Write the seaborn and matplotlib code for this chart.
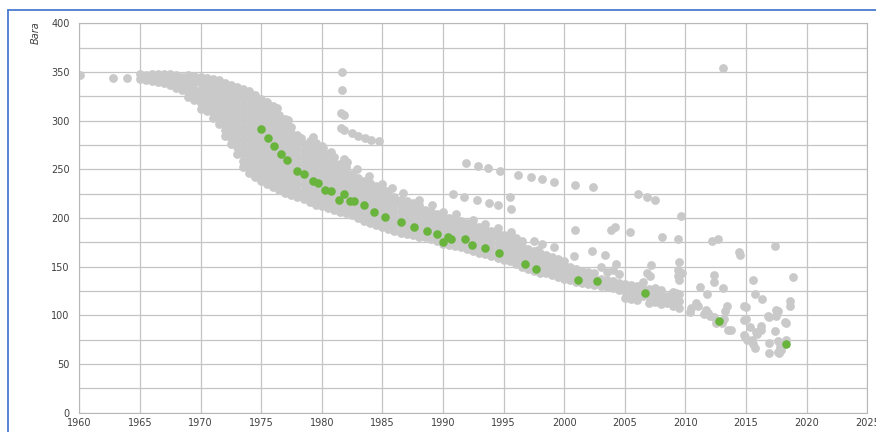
import pandas as pd
import matplotlib.pyplot as plt
import seaborn as sns
from matplotlib.lines import Line2D
from matplotlib.ticker import MultipleLocator

# dense part of the cloud: (year, [bara values at that year])
band_1965_1979 = [
    (1965.0, [343, 348]), (1965.5, [342, 347]), (1966.0, [341, 346, 348]),
    (1966.5, [340, 345, 348]), (1967.0, [339, 344, 348]), (1967.5, [337, 343, 348]),
    (1968.0, [334, 341, 347]), (1968.5, [331, 338, 345]),
    (1969.0, [324, 329, 335, 341, 347]), (1969.5, [321, 327, 333, 340, 346]),
    (1970.0, [312, 318, 325, 332, 339, 345]), (1970.5, [310, 316, 323, 330, 337, 344]),
    (1971.0, [303, 309, 316, 323, 330, 337, 343]),
    (1971.5, [297, 304, 311, 318, 325, 332, 338, 342]),
    (1972.0, [284, 290, 297, 304, 311, 318, 325, 332, 339]),
    (1972.5, [276, 282, 289, 296, 303, 310, 317, 324, 331, 337]),
    (1973.0, [266, 273, 280, 287, 294, 301, 308, 315, 322, 329, 335]),
    (1973.5, [252, 259, 266, 273, 280, 287, 294, 301, 308, 315, 322, 328, 333]),
    (1974.0, [246, 253, 260, 267, 274, 281, 288, 295, 302, 309, 316, 323, 330]),
    (1974.5, [242, 249, 256, 263, 270, 277, 284, 291, 298, 305, 312, 319, 326]),
    (1975.0, [238, 245, 252, 259, 266, 273, 280, 287, 294, 301, 308, 315, 322]),
    (1975.5, [235, 242, 249, 256, 263, 270, 277, 284, 291, 298, 305, 312, 319]),
    (1976.0, [232, 239, 246, 253, 260, 267, 274, 281, 288, 295, 302, 309, 315]),
    (1976.5, [229, 236, 243, 250, 257, 264, 271, 278, 285, 292, 299, 306]),
    (1977.0, [226, 233, 240, 247, 254, 261, 268, 275, 282, 289, 296, 302]),
    (1977.5, [224, 231, 238, 245, 252, 259, 266, 273, 280, 287, 294]),
    (1978.0, [222, 229, 236, 243, 250, 257, 264, 271, 278, 285]),
    (1978.5, [220, 227, 234, 241, 248, 255, 262, 269, 276]),
    (1979.0, [216, 223, 230, 237, 244, 251, 258, 265, 272, 279]),
    (1979.5, [213, 220, 227, 234, 241, 248, 255, 262, 269, 277]),
]

band_1980_1994 = [
    (1980.0, [212, 219, 226, 233, 240, 247, 254, 261, 268, 274]),
    (1980.5, [210, 217, 224, 231, 238, 245, 252, 259, 266]),
    (1981.0, [208, 215, 222, 229, 236, 243, 250, 257, 263]),
    (1981.5, [206, 213, 220, 227, 234, 241, 248, 255]),
    (1982.0, [205, 212, 219, 226, 233, 240, 247, 252]),
    (1982.5, [203, 210, 217, 224, 231, 238, 245]),
    (1983.0, [200, 207, 214, 221, 228, 235, 241]),
    (1983.5, [197, 204, 211, 218, 225, 232, 238]),
    (1984.0, [195, 202, 209, 216, 223, 230, 236]),
    (1984.5, [193, 200, 207, 214, 221, 228, 233]),
    (1985.0, [191, 198, 205, 212, 219, 226, 231]),
    (1985.5, [189, 196, 203, 210, 217, 224, 228]),
    (1986.0, [187, 194, 201, 208, 215, 222]),
    (1986.5, [185, 192, 199, 206, 213, 219]),
    (1987.0, [184, 191, 198, 205, 212, 217]),
    (1987.5, [183, 190, 197, 204, 211, 215]),
    (1988.0, [181, 188, 195, 202, 209, 213]),
    (1988.5, [180, 187, 194, 201, 208]),
    (1989.0, [178, 185, 192, 199, 206]),
    (1989.5, [176, 183, 190, 197, 204]),
    (1990.0, [173, 180, 187, 194, 201, 206]),
    (1990.5, [172, 179, 186, 193, 200]),
    (1991.0, [171, 178, 185, 192, 199]),
    (1991.5, [170, 177, 184, 191, 197]),
    (1992.0, [168, 175, 182, 189, 195]),
    (1992.5, [166, 173, 180, 187, 193]),
    (1993.0, [164, 171, 178, 185, 191]),
    (1993.5, [163, 170, 177, 184, 189]),
    (1994.0, [161, 168, 175, 182, 187]),
    (1994.5, [159, 166, 173, 180, 185]),
]

band_1995_2009 = [
    (1995.0, [157, 164, 171, 178, 183]), (1995.5, [156, 163, 170, 177, 181]),
    (1996.0, [153, 160, 167, 174, 179]), (1996.5, [150, 157, 164, 171, 176]),
    (1997.0, [148, 155, 162, 168]), (1997.5, [146, 153, 160, 166]),
    (1998.0, [144, 151, 158, 164]), (1998.5, [143, 150, 157, 162]),
    (1999.0, [141, 148, 155, 160]), (1999.5, [139, 146, 153, 158]),
    (2000.0, [137, 144, 151, 156]), (2000.5, [136, 143, 150]),
    (2001.0, [134, 141, 148]), (2001.5, [133, 140, 146]),
    (2002.0, [132, 139, 145]), (2002.5, [131, 138, 144]),
    (2003.0, [130, 137, 150]), (2003.5, [129, 136, 145]),
    (2004.0, [128, 135, 147]), (2004.5, [126, 133, 142]),
    (2005.0, [118, 125, 132]), (2005.5, [117, 124, 131]),
    (2006.0, [116, 123, 130]), (2006.5, [120, 127, 134]),
    (2007.0, [113, 120, 127]), (2007.5, [114, 121, 128]),
    (2008.0, [112, 119, 126]), (2008.5, [113, 120]),
    (2009.0, [110, 117, 124]), (2009.5, [108, 115, 122]),
]

# single wells away from the main band
scattered = [
    (1960.1, 347), (1962.8, 344), (1963.9, 344),
    (1976.3, 313), (1977.2, 301), (1978.3, 282), (1979.3, 283), (1979.4, 273),
    (1978.6, 268), (1980.1, 272), (1980.8, 268),
    (1981.7, 350), (1981.7, 332), (1981.6, 308), (1981.8, 306), (1981.6, 292),
    (1981.8, 290), (1982.5, 287), (1983.0, 284), (1983.6, 282), (1984.1, 280),
    (1984.7, 279), (1981.8, 261), (1982.1, 258), (1982.9, 250), (1983.9, 243),
    (1985.0, 235), (1985.8, 231), (1986.7, 226), (1988.0, 219), (1989.1, 213),
    (1990.8, 225), (1991.7, 222), (1992.8, 218), (1993.8, 215), (1994.5, 213),
    (1995.5, 222), (1995.6, 209), (1991.1, 204), (1992.5, 198), (1993.5, 194),
    (1994.5, 190), (1995.6, 186),
    (1991.9, 256), (1992.9, 253), (1993.7, 251), (1994.7, 248), (1996.2, 244),
    (1997.3, 242), (1998.2, 240), (1999.2, 237), (2000.9, 234), (2002.4, 232),
    (1997.5, 176), (1998.2, 173), (1999.2, 170), (1997.8, 167), (2000.8, 161),
    (2000.9, 188), (2002.3, 166), (2003.4, 162), (2003.9, 188), (2004.2, 191),
    (2004.3, 153), (2005.4, 186),
    (2006.1, 225), (2006.8, 222), (2007.5, 219), (2009.6, 202),
    (2008.1, 180), (2009.4, 178), (2009.5, 155), (2007.2, 152), (2006.8, 143),
    (2007.1, 140), (2009.4, 140), (2009.2, 123), (2009.4, 147), (2009.7, 144),
    (2009.5, 136),
    (2010.4, 103), (2010.5, 108), (2010.9, 113), (2011.0, 110), (2011.2, 129),
    (2011.5, 101), (2011.7, 106), (2011.8, 122), (2011.9, 102), (2012.0, 99),
    (2012.2, 176), (2012.4, 141), (2012.4, 134), (2012.4, 98), (2012.5, 92),
    (2012.7, 178), (2013.0, 92), (2013.1, 128), (2013.1, 354), (2013.3, 104),
    (2013.4, 110), (2013.5, 85), (2013.8, 85), (2013.2, 96),
    (2014.4, 165), (2014.5, 162), (2014.8, 95), (2014.8, 110), (2014.8, 80),
    (2014.9, 78), (2015.0, 96), (2015.0, 109), (2015.1, 75), (2015.3, 88),
    (2015.5, 75), (2015.6, 71), (2015.6, 136), (2015.7, 122), (2015.7, 66),
    (2015.8, 83), (2015.9, 81), (2016.2, 85), (2016.2, 89), (2016.3, 117),
    (2016.8, 99), (2016.9, 98), (2016.9, 72), (2016.9, 61), (2017.4, 171),
    (2017.4, 84), (2017.5, 99), (2017.5, 105), (2017.6, 104), (2017.6, 74),
    (2017.6, 62), (2017.7, 61), (2017.8, 67), (2017.9, 64), (2018.0, 70),
    (2018.2, 93), (2018.3, 92), (2018.6, 110), (2018.6, 115), (2018.9, 139),
    (2018.3, 75),
]

# highlighted well
green_year = [1975.0, 1975.6, 1976.1, 1976.6, 1977.1, 1978.0, 1978.5, 1979.3, 1979.7,
              1980.3, 1980.8, 1981.4, 1981.8, 1982.3, 1982.7, 1983.5, 1984.3, 1985.2,
              1986.5, 1987.6, 1988.7, 1989.5, 1990.0, 1990.4, 1990.7, 1991.8, 1992.4,
              1993.5, 1994.6, 1996.8, 1997.7, 2001.1, 2002.7, 2006.7, 2012.8, 2018.3]
green_bara = [291, 282, 274, 266, 260, 248, 245, 238, 236,
              229, 228, 219, 225, 217, 217, 213, 206, 201,
              196, 191, 187, 184, 175, 181, 178, 178, 172,
              169, 164, 153, 148, 136, 135, 123, 94, 71]

rows = []
for yr, vals in band_1965_1979 + band_1980_1994 + band_1995_2009:
    for v in vals:
        rows.append((yr, v))
rows += scattered
gray = pd.DataFrame(rows, columns=['year', 'bara'])
green = pd.DataFrame({'year': green_year, 'bara': green_bara})

sns.set_style('white')
fig = plt.figure(figsize=(8.76, 4.32), dpi=100)
ax = fig.add_axes([0.0905, 0.0447, 0.8995, 0.9013])
ax.set_axisbelow(True)

sns.scatterplot(data=gray, x='year', y='bara', color='#c9c9c9', s=40, linewidth=0, ax=ax)
sns.scatterplot(data=green, x='year', y='bara', color='#68b43c', s=38, linewidth=0, ax=ax)

ax.set_xlim(1960, 2025)
ax.set_ylim(0, 400)
ax.xaxis.set_major_locator(MultipleLocator(5))
ax.xaxis.set_minor_locator(MultipleLocator(1))
ax.yaxis.set_major_locator(MultipleLocator(50))
ax.yaxis.set_minor_locator(MultipleLocator(25))
ax.grid(which='major', color='#c4c4c4', lw=0.9)
ax.grid(which='minor', axis='y', color='#c4c4c4', lw=0.9)
ax.tick_params(axis='x', which='minor', direction='in', length=3, color='#a8a8a8')
ax.tick_params(axis='x', which='major', length=0, labelsize=7, labelcolor='#404040', pad=4)
ax.tick_params(axis='y', which='both', length=0, labelsize=7, labelcolor='#404040', pad=7)
for sp in ax.spines.values():
    sp.set_color('#b8b8b8')
ax.set_xlabel('')
ax.set_ylabel('')

fig.text(36 / 876, 1 - 33 / 432, 'Bara', rotation=90, style='italic', fontsize=7,
         color='#404040', ha='center', va='center')
# blue frame, only top and left edges visible
fig.add_artist(Line2D([8 / 876, 8 / 876], [0, 1 - 10 / 432], transform=fig.transFigure,
                      color='#4a7bd0', lw=1.3))
fig.add_artist(Line2D([8 / 876, 1], [1 - 10 / 432, 1 - 10 / 432], transform=fig.transFigure,
                      color='#4a7bd0', lw=1.3))

fig.savefig('out.png', dpi=100)
